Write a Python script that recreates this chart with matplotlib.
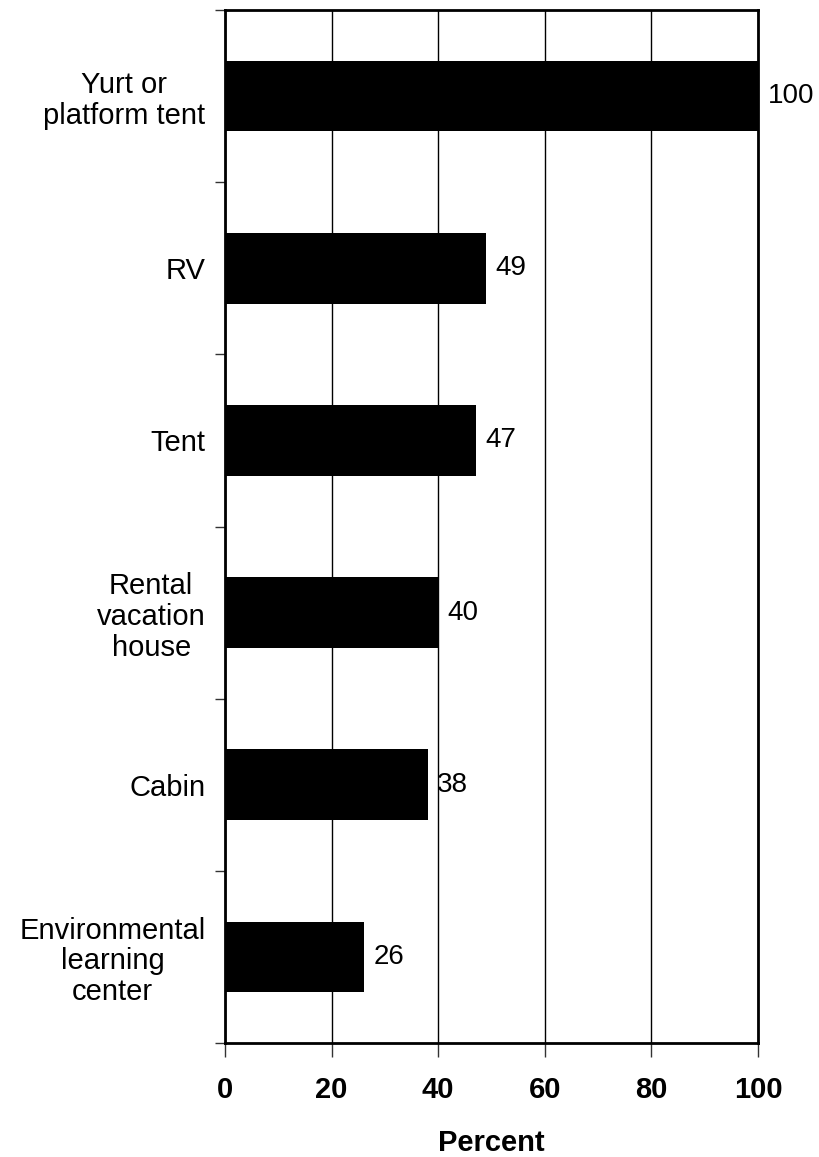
import matplotlib
matplotlib.use("Agg")
import matplotlib.pyplot as plt

categories = ["Yurt or\nplatform tent", "RV", "Tent", "Rental\nvacation\nhouse", "Cabin",
              "Environmental\nlearning\ncenter"]
values = [100, 49, 47, 40, 38, 26]
xticks = [0, 20, 40, 60, 80, 100]

plt.rcParams['font.family'] = ['Liberation Sans', 'DejaVu Sans']

fig = plt.figure(figsize=(8.2, 11.57), dpi=100)
ax = fig.add_axes([225/820, 1-1043/1157, (758-225)/820, (1043-10)/1157])

n = len(categories)
pos = list(range(n))
ax.barh(pos, values, height=0.41, color='black', zorder=3)
ax.set_ylim(n - 0.5, -0.5)
ax.set_xlim(0, 100)

for p, v in zip(pos, values):
    ax.text(v + 1.8, p, str(v), va='center', ha='left', fontsize=20)

ax.set_yticks([i - 0.5 for i in range(n + 1)])
ax.set_yticklabels([])
ax.set_yticks(pos, minor=True)
ax.set_yticklabels(categories, minor=True, fontsize=21, ha='right', multialignment='center',
                   linespacing=1.12)
ax.tick_params(axis='y', which='minor', length=0, pad=14)
ax.tick_params(axis='y', which='major', length=7, width=1, direction='out', color='#333333')

ax.set_xticks(xticks)
ax.set_xticklabels([str(t) for t in xticks], fontsize=21, fontweight='bold')
ax.tick_params(axis='x', length=10, width=1, direction='out', pad=14, color='#333333')
ax.set_xlabel("Percent", fontsize=21, fontweight='bold', labelpad=18)

ax.grid(axis='x', color='black', linewidth=1, zorder=0)
for s in ax.spines.values():
    s.set_linewidth(2)
    s.set_zorder(4)

fig.savefig("out.png", dpi=100)
